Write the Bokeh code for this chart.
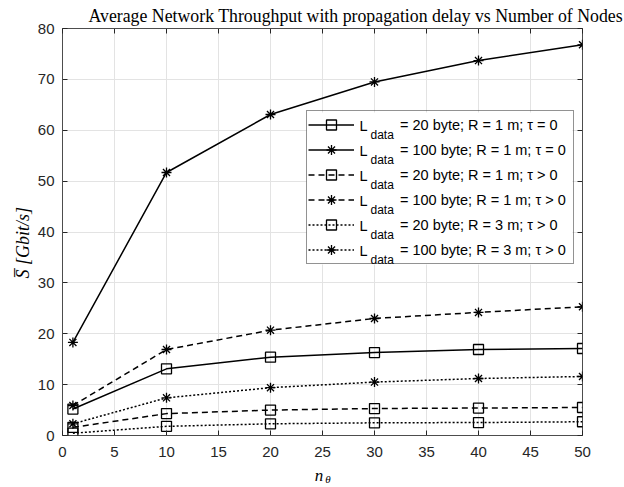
from bokeh.plotting import figure
from bokeh.models import Legend, LegendItem, LinearAxis, Label, FixedTicker, Range1d, BoxAnnotation
from bokeh.embed import file_html
from bokeh.resources import INLINE

# ---- data ----
nodes = [1, 10, 20, 30, 40, 50]
s_20_r1_tau0 = [5.2, 13.1, 15.4, 16.3, 16.9, 17.1]
s_100_r1_tau0 = [18.3, 51.7, 63.1, 69.5, 73.7, 76.8]
s_20_r1_taup = [1.6, 4.3, 5.0, 5.3, 5.4, 5.5]
s_100_r1_taup = [5.9, 16.9, 20.7, 23.0, 24.2, 25.3]
s_20_r3_taup = [0.45, 1.8, 2.3, 2.5, 2.55, 2.7]
s_100_r3_taup = [2.3, 7.4, 9.4, 10.5, 11.2, 11.6]
legend_labels = [
    "= 20 byte; R = 1 m; \u03c4 = 0",
    "= 100 byte; R = 1 m; \u03c4 = 0",
    "= 20 byte; R = 1 m; \u03c4 > 0",
    "= 100 byte; R = 1 m; \u03c4 > 0",
    "= 20 byte; R = 3 m; \u03c4 > 0",
    "= 100 byte; R = 3 m; \u03c4 > 0",
]
x_ticks = list(range(0, 51, 5))
y_ticks = list(range(0, 81, 10))

series = [s_20_r1_tau0, s_100_r1_tau0, s_20_r1_taup, s_100_r1_taup, s_20_r3_taup, s_100_r3_taup]
dashes = ["solid", "solid", "6 4", "6 4", "2 2", "2 2"]
markers = ["square", "asterisk", "square", "asterisk", "square", "asterisk"]

W, H = 624, 487
ML, MR, MT, MB = 62, 42, 27, 52

p = figure(width=W, height=H, x_range=Range1d(0, 50), y_range=Range1d(0, 80),
           output_backend="svg", toolbar_location=None,
           min_border_left=ML, min_border_right=MR, min_border_top=MT, min_border_bottom=MB)
p.background_fill_color = "white"
p.border_fill_color = "white"
p.outline_line_color = "#4d4d4d"
p.outline_line_width = 1

p.title.text = "Average Network Throughput with propagation delay vs Number of Nodes"
p.title.text_font = "Liberation Serif"
p.title.text_font_style = "normal"
p.title.text_font_size = "17.8px"
p.title.text_color = "black"
p.title.align = "left"
p.title.offset = 26
p.title.standoff = 6

tick_col = "#262626"
for ax in p.xaxis + p.yaxis:
    ax.major_tick_in = 5
    ax.major_tick_out = 0
    ax.minor_tick_line_color = None
    ax.axis_line_color = None
    ax.major_tick_line_color = tick_col
    ax.major_label_text_font = "Liberation Sans"
    ax.major_label_text_font_size = "15px"
    ax.major_label_text_color = tick_col
p.xaxis.ticker = FixedTicker(ticks=x_ticks)
p.yaxis.ticker = FixedTicker(ticks=y_ticks)
p.xaxis.major_label_standoff = 11
p.yaxis.major_label_standoff = 8

p.yaxis.axis_label = "S\u0305 [Gbit/s]\u2002\u2002\u2009"
p.yaxis.axis_label_text_font = "Liberation Serif"
p.yaxis.axis_label_text_font_style = "italic"
p.yaxis.axis_label_text_font_size = "18px"
p.yaxis.axis_label_text_color = "black"
p.yaxis.axis_label_standoff = 2

p.xaxis.axis_label = "n\u2009\u2009"
p.xaxis.axis_label_text_font = "Liberation Serif"
p.xaxis.axis_label_text_font_style = "italic"
p.xaxis.axis_label_text_font_size = "17px"
p.xaxis.axis_label_text_color = "black"
p.xaxis.axis_label_standoff = 6

# subscript theta of the x label, carried by a tick-less axis pulled up next to "n"
theta_axis = LinearAxis(ticker=FixedTicker(ticks=[]), axis_line_color=None,
                        major_tick_line_color=None, minor_tick_line_color=None,
                        major_tick_in=0, major_tick_out=0,
                        axis_label="\u2002\u2002\u03b8", axis_label_text_font="Liberation Serif",
                        axis_label_text_font_style="italic", axis_label_text_font_size="11px",
                        axis_label_text_color="black", axis_label_standoff=-15)
p.add_layout(theta_axis, "below")

# box ticks on the top and right edges (no labels)
for loc, tk in (("above", x_ticks), ("right", y_ticks)):
    ax = LinearAxis(ticker=FixedTicker(ticks=tk), major_tick_in=5, major_tick_out=0,
                    minor_tick_line_color=None, axis_line_color=None,
                    major_tick_line_color=tick_col,
                    major_label_overrides={t: "" for t in tk},
                    major_label_standoff=0)
    p.add_layout(ax, loc)

p.xgrid.ticker = FixedTicker(ticks=x_ticks)
p.ygrid.ticker = FixedTicker(ticks=y_ticks)
p.xgrid.grid_line_color = "#e3e3e3"
p.ygrid.grid_line_color = "#e3e3e3"

items = []
for vals, dash, mk, lab in zip(series, dashes, markers, legend_labels):
    r1 = p.line(nodes, vals, line_color="black", line_width=1.5, line_dash=dash)
    r2 = p.scatter(nodes, vals, marker=mk, size=10, line_color="black",
                   fill_color=None, line_width=1.3)
    items.append(LegendItem(label=lab, renderers=[r1, r2]))

LEG_X, LEG_Y, LEG_W, LEG_H = 244, 171, 266, 152

# white legend background drawn beneath the (transparent) legend
p.add_layout(BoxAnnotation(left=LEG_X, right=LEG_X + LEG_W, bottom=LEG_Y, top=LEG_Y + LEG_H,
                           left_units="screen", right_units="screen",
                           bottom_units="screen", top_units="screen",
                           fill_color="white", fill_alpha=1, line_color=None))

leg = Legend(items=items, location=(LEG_X, LEG_Y))
leg.border_line_color = "#262626"
leg.border_line_width = 1
leg.background_fill_alpha = 0
leg.padding = 1
leg.spacing = 0
leg.margin = 0
leg.glyph_width = 46
leg.glyph_height = 25
leg.label_height = 25
leg.label_width = 172
leg.label_standoff = 46
leg.label_text_font = "Liberation Sans"
leg.label_text_font_size = "14.5px"
leg.label_text_color = "black"
p.add_layout(leg, "center")

# subscripted "L_data" prefixes of the legend entries (frame-relative screen units)
top_row = LEG_Y + LEG_H - 1 - 12.5
for i in range(len(legend_labels)):
    cy = top_row - 25 * i
    p.add_layout(Label(x=LEG_X + 53, y=cy, x_units="screen", y_units="screen", text="L",
                       text_font="Liberation Sans", text_font_size="14.5px",
                       text_baseline="middle", text_color="black"))
    p.add_layout(Label(x=LEG_X + 64, y=cy - 8.5, x_units="screen", y_units="screen", text="data",
                       text_font="Liberation Sans", text_font_size="12px",
                       text_baseline="alphabetic", text_color="black"))

open("out.html", "w").write(file_html(p, INLINE))
